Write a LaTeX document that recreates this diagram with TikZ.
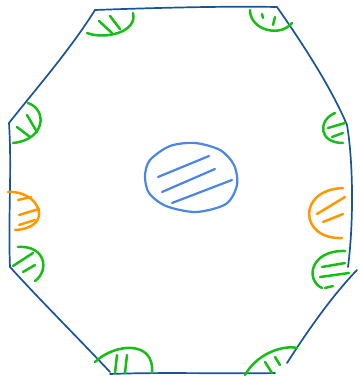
\documentclass[tikz,border=0pt]{standalone}
\definecolor{wallblue}{RGB}{24,84,150}
\definecolor{seatgreen}{RGB}{22,190,22}
\definecolor{seatorange}{RGB}{255,152,0}
\definecolor{tableblue}{RGB}{74,134,232}
\begin{document}
\begin{tikzpicture}[x=1pt,y=-1pt,line cap=round,
 wall/.style={wallblue,line width=1.7pt},
 grn/.style={seatgreen,line width=2.5pt},
 org/.style={seatorange,line width=2.5pt},
 tbl/.style={tableblue,line width=2.2pt}]
 \useasboundingbox (0,0) rectangle (360,379);
 % room outline
 \draw[wall] (95,10) .. controls (150,8) and (220,6) .. (277,7);
 \draw[wall] (277,7) .. controls (300,40) and (330,85) .. (347,125);
 \draw[wall] (347,125) .. controls (353,160) and (354,220) .. (348,267);
 \draw[wall] (357,270) .. controls (330,298) and (305,335) .. (287,363);
 \draw[wall] (110,374) .. controls (160,372) and (230,374) .. (275,373);
 \draw[wall] (10,267) .. controls (40,300) and (80,340) .. (110,372);
 \draw[wall] (9,123) .. controls (12,170) and (8,220) .. (10,267);
 \draw[wall] (9,123) .. controls (35,90) and (70,50) .. (95,10);
 % green seats
 \draw[grn] (87,33) .. controls (105,40) and (138,32) .. (133,13);
 \draw[grn] (99,21)--(112,33); \draw[grn] (110,16)--(120,29);
 \draw[grn] (250,10) .. controls (250,30) and (280,38) .. (292,23);
 \draw[grn] (262,14)--(263,18); \draw[grn] (275,17)--(273,25);
 \draw[grn] (335,113) .. controls (318,120) and (318,143) .. (343,143);
 \draw[grn] (328,128)--(345,123); \draw[grn] (332,137)--(343,133);
 \draw[grn] (345,251) .. controls (310,250) and (305,280) .. (322,288);
 \draw[grn] (322,267)--(345,263); \draw[grn] (320,277)--(349,273); \draw[grn] (325,288)--(333,286);
 \draw[grn] (245,375) .. controls (258,352) and (285,345) .. (297,348);
 \draw[grn] (265,362)--(272,373); \draw[grn] (275,357)--(280,365);
 \draw[grn] (95,362) .. controls (115,343) and (155,340) .. (152,373);
 \draw[grn] (115,373)--(117,355); \draw[grn] (125,373)--(127,355);
 \draw[grn] (18,247) .. controls (45,245) and (50,270) .. (35,281);
 \draw[grn] (13,266)--(33,253); \draw[grn] (23,272)--(35,265);
 \draw[grn] (28,103) .. controls (48,110) and (45,140) .. (13,143);
 \draw[grn] (17,127)--(30,137); \draw[grn] (27,115)--(37,132);
 % orange seats
 \draw[org] (343,188) .. controls (296,190) and (300,240) .. (342,238);
 \draw[org] (317,214)--(345,197); \draw[org] (323,222)--(343,214);
 \draw[org] (8,192) .. controls (40,190) and (55,228) .. (15,230);
 \draw[org] (18,200)--(31,197); \draw[org] (19,215)--(39,209); \draw[org] (19,225)--(35,220);
 % table
 \draw[tbl] plot[smooth cycle] coordinates {(150,160) (170,146) (195,143) (220,150) (234,165) (237,185) (226,204) (196,212) (166,206) (149,193) (145,176)};
 \draw[tbl] (158,177)--(209,156); \draw[tbl] (162,192)--(215,169); \draw[tbl] (172,203)--(232,180);
\end{tikzpicture}
\end{document}
